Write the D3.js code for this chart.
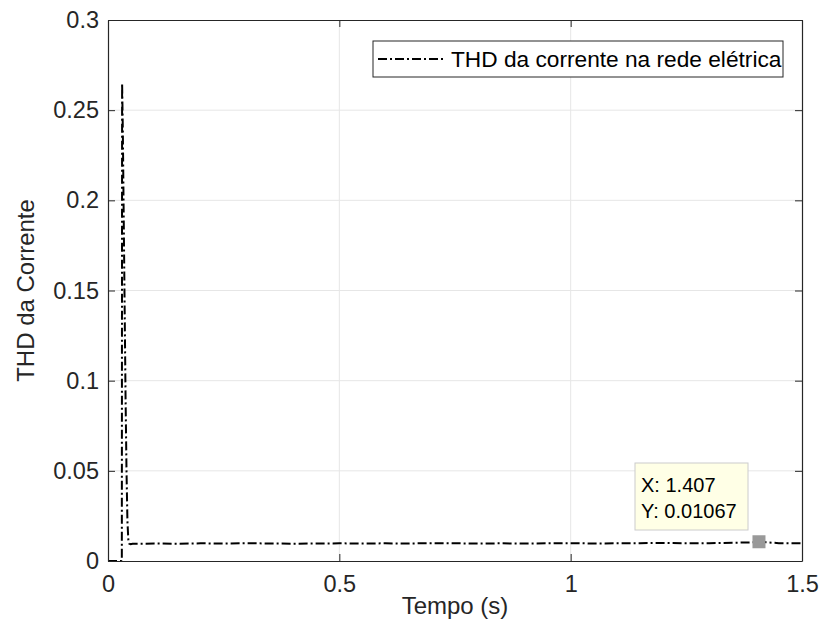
<!DOCTYPE html>
<html>
<head>
<meta charset="utf-8">
<script src="https://cdn.jsdelivr.net/npm/d3@7"></script>
<style>
  body { margin: 0; background: #fff; }
  text { font-family: "Liberation Sans", Arial, sans-serif; }
</style>
</head>
<body>
<svg id="chart" width="821" height="644"></svg>
<script>
// transient at start-up
var tStart = [0, 0.0299, 0.0305, 0.032, 0.034, 0.036, 0.038, 0.040, 0.042, 0.044, 0.046, 0.049, 0.053];
var thdStart = [0, 0, 0.265, 0.24, 0.19, 0.14, 0.09, 0.05, 0.022, 0.0115, 0.0096, 0.0093, 0.0096];
// steady state, every 0.05 s
var tSteady = [0.06, 0.1, 0.15, 0.2, 0.25, 0.3, 0.35, 0.4, 0.45, 0.5, 0.55, 0.6, 0.65, 0.7, 0.75, 0.8,
  0.85, 0.9, 0.95, 1.0, 1.05, 1.1, 1.15, 1.2, 1.25, 1.3, 1.35, 1.4, 1.407, 1.45, 1.5];
var thdSteady = [0.0095, 0.0097, 0.0096, 0.0098, 0.0097, 0.0099, 0.0097, 0.0096, 0.0097, 0.0098, 0.0097,
  0.0098, 0.0097, 0.0099, 0.0098, 0.0097, 0.0098, 0.0097, 0.0098, 0.0099, 0.0097, 0.0098, 0.0099,
  0.0100, 0.0098, 0.0099, 0.0101, 0.0104, 0.01067, 0.0099, 0.0098];

var xTicks = [0, 0.5, 1, 1.5];
var yTicks = [0, 0.05, 0.1, 0.15, 0.2, 0.25, 0.3];
var legendLabel = "THD da corrente na rede elétrica";
var tip = { x: 1.407, y: 0.01067 };

var MARGIN = { LEFT: 108, RIGHT: 19, TOP: 20, BOTTOM: 83 };
var W = 821, H = 644;
var pw = W - MARGIN.LEFT - MARGIN.RIGHT, ph = H - MARGIN.TOP - MARGIN.BOTTOM;

var data = tStart.map(function (t, i) { return { t: t, v: thdStart[i] }; })
  .concat(tSteady.map(function (t, i) { return { t: t, v: thdSteady[i] }; }));

var svg = d3.select("#chart");
var g = svg.append("g").attr("transform", "translate(" + MARGIN.LEFT + "," + MARGIN.TOP + ")");

var x = d3.scaleLinear().domain([0, 1.5]).range([0, pw]);
var y = d3.scaleLinear().domain([0, 0.3]).range([ph, 0]);

// grid
g.append("g").selectAll("line").data(xTicks.slice(1, -1)).enter().append("line")
  .attr("x1", function (d) { return x(d); }).attr("x2", function (d) { return x(d); })
  .attr("y1", 0).attr("y2", ph).attr("stroke", "#e6e6e6").attr("stroke-width", 1);
g.append("g").selectAll("line").data(yTicks.slice(1, -1)).enter().append("line")
  .attr("y1", function (d) { return y(d); }).attr("y2", function (d) { return y(d); })
  .attr("x1", 0).attr("x2", pw).attr("stroke", "#e6e6e6").attr("stroke-width", 1);

// curve
var line = d3.line().x(function (d) { return x(d.t); }).y(function (d) { return y(d.v); });
g.append("path").datum(data).attr("d", line)
  .attr("fill", "none").attr("stroke", "#000").attr("stroke-width", 2)
  .attr("stroke-dasharray", "9,3,2,3");

// axes (ticks inward, box)
var axFont = "23.5px";
var axB = g.append("g").attr("transform", "translate(0," + ph + ")")
  .call(d3.axisBottom(x).tickValues(xTicks).tickFormat(d3.format("")).tickSizeInner(-7).tickSizeOuter(0).tickPadding(14));
var axL = g.append("g")
  .call(d3.axisLeft(y).tickValues(yTicks).tickFormat(d3.format("")).tickSizeInner(-7).tickSizeOuter(0).tickPadding(9));
var axT = g.append("g")
  .call(d3.axisTop(x).tickValues(xTicks).tickFormat("").tickSizeInner(-7).tickSizeOuter(0));
var axR = g.append("g").attr("transform", "translate(" + pw + ",0)")
  .call(d3.axisRight(y).tickValues(yTicks).tickFormat("").tickSizeInner(-7).tickSizeOuter(0));
[axB, axL, axT, axR].forEach(function (a) {
  a.selectAll("path").attr("stroke", "#262626").attr("stroke-width", 1.2);
  a.selectAll("line").attr("stroke", "#262626");
  a.selectAll("text").attr("fill", "#262626").style("font-size", axFont)
    .style("font-family", "'Liberation Sans', Arial, sans-serif");
});

// axis labels
svg.append("text").attr("x", MARGIN.LEFT + pw / 2).attr("y", 614).attr("text-anchor", "middle")
  .attr("fill", "#262626").style("font-size", "24px").text("Tempo (s)");
svg.append("text").attr("transform", "translate(34," + (MARGIN.TOP + ph / 2) + ") rotate(-90)")
  .attr("text-anchor", "middle").attr("fill", "#262626").style("font-size", "24px").text("THD da Corrente");

// legend
var lg = svg.append("g");
lg.append("rect").attr("x", 373).attr("y", 41).attr("width", 410).attr("height", 36)
  .attr("fill", "#fff").attr("stroke", "#262626").attr("stroke-width", 1);
lg.append("line").attr("x1", 378).attr("x2", 443).attr("y1", 59).attr("y2", 59)
  .attr("stroke", "#000").attr("stroke-width", 2).attr("stroke-dasharray", "9,3,2,3");
lg.append("text").attr("x", 451).attr("y", 67).attr("fill", "#000").style("font-size", "22.7px").text(legendLabel);

// data tip
var mx = MARGIN.LEFT + x(tip.x), my = MARGIN.TOP + y(tip.y);
svg.append("rect").attr("x", mx - 6.5).attr("y", my - 6.5).attr("width", 13).attr("height", 13)
  .attr("fill", "#999");
var tg = svg.append("g");
tg.append("rect").attr("x", 635).attr("y", 463).attr("width", 113).attr("height", 67)
  .attr("fill", "#ffffe6").attr("stroke", "#cccccc").attr("stroke-width", 1);
tg.append("text").attr("x", 641).attr("y", 492).attr("fill", "#000").style("font-size", "20px")
  .text("X: " + tip.x);
tg.append("text").attr("x", 641).attr("y", 518).attr("fill", "#000").style("font-size", "20px")
  .text("Y: " + tip.y);
</script>
</body>
</html>
